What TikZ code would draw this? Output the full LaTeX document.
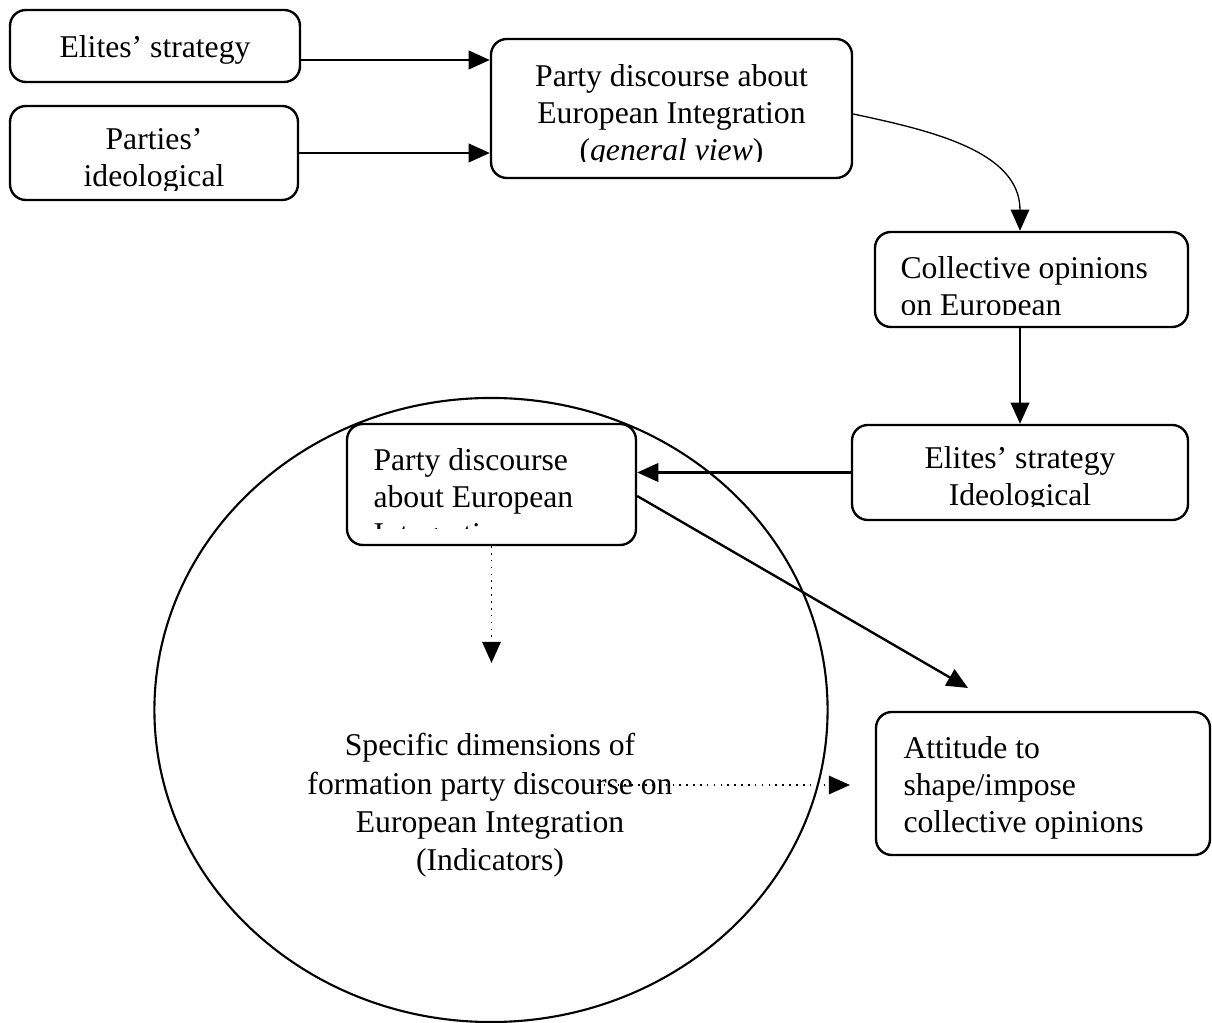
\documentclass[tikz,border=0pt]{standalone}
\usepackage{fontspec}
\setmainfont{Liberation Serif}
\usetikzlibrary{arrows.meta}
\usetikzlibrary{shapes.geometric}

\begin{document}
\begin{tikzpicture}[x=0.3788pt,y=-0.3788pt,
    box/.style={draw, fill=white, line width=0.9pt, rounded corners=6pt, inner sep=0pt},
    txt/.style={inner sep=0pt, font=\fontsize{12}{14}\selectfont},
    link/.style={line width=0.9pt, -{Triangle[length=8pt,width=7pt]}},
    hint/.style={line width=0.6pt, dotted, -{Triangle[length=8pt,width=7pt]}}]
    \useasboundingbox (0,0) rectangle (1212,1023);

% the circle around the second discourse box
    \node[draw, ellipse, line width=0.8pt, minimum width=255pt, minimum height=236.4pt] (frame) at (491,710) {};

% boxes
    \node[box, minimum width=109.85pt, minimum height=27.27pt] (elites) at (155,46) {};
    \node[box, minimum width=109.09pt, minimum height=35.61pt] (ideology) at (154,153) {};
    \node[box, minimum width=136.75pt, minimum height=52.65pt] (discourse) at (671.5,108.5) {};
    \node[box, minimum width=118.56pt, minimum height=35.99pt] (opinions) at (1031.5,279.5) {};
    \node[box, minimum width=127.28pt, minimum height=35.99pt] (strategy) at (1020,472.5) {};
    \node[box, minimum width=109.47pt, minimum height=45.83pt] (discourse2) at (491.5,484.5) {};
    \node[box, minimum width=126.52pt, minimum height=54.17pt] (attitude) at (1043,783.5) {};

% texts (cut off at the bottom where the boxes are too small)
    \node[txt, anchor=north] (elitesT) at (155,35) {Elites' strategy};
    \begin{scope}
        \clip (10,106) rectangle (298,191);
        \node[txt, anchor=north, align=center] (ideologyT) at (154,128) {Parties'\\ideological};
    \end{scope}
    \begin{scope}
        \clip (491,39) rectangle (852,162);
        \node[txt, anchor=north, align=center] (discourseT) at (671.5,64) {Party discourse about\\European Integration\\(\textit{general view})};
    \end{scope}
    \begin{scope}
        \clip (875,232) rectangle (1188,315);
        \node[txt, anchor=north west, align=left] (opinionsT) at (900,256) {Collective opinions\\on European};
    \end{scope}
    \begin{scope}
        \clip (852,425) rectangle (1188,507);
        \node[txt, anchor=north, align=center] (strategyT) at (1020,446) {Elites' strategy\\Ideological};
    \end{scope}
    \begin{scope}
        \clip (347,424) rectangle (636,529);
        \node[txt, anchor=north west, align=left] (discourse2T) at (373,448) {Party discourse\\about European\\Integration};
    \end{scope}
    \node[txt, anchor=north west, align=left] (attitudeT) at (903,736) {Attitude to\\shape/impose\\collective opinions};
    \node[txt, anchor=north, align=center, font=\fontsize{12}{14.5}\selectfont] (dimsT) at (490,733) {Specific dimensions of\\formation party discourse on\\European Integration\\(Indicators)};

% arrows
    \draw[link] (elites.east |- 0,60) -- (discourse.west |- 0,60);
    \draw[link] (ideology.east) -- (ideology.east -| discourse.west);
    \draw[link, line width=0.5pt] (discourse.east |- 0,114) to[out=-12,in=90] (opinions.north -| strategy.north);
    \draw[link] (opinions.south -| strategy.north) -- (strategy.north);
    \draw[link] (strategy.west) -- (strategy.west -| discourse2.east);
    \coordinate (attTip) at (968,688);
    \draw[link] (discourse2.east |- 0,496) -- (attTip);

% dotted arrows
    \coordinate (dimsTip) at (491.5,663);
    \draw[hint] (discourse2.south) -- (dimsTip);
    \coordinate (dotFrom) at (597,785);
    \coordinate (dotTo) at (850,785);
    \draw[hint] (dotFrom) -- (dotTo);
\end{tikzpicture}
\end{document}
